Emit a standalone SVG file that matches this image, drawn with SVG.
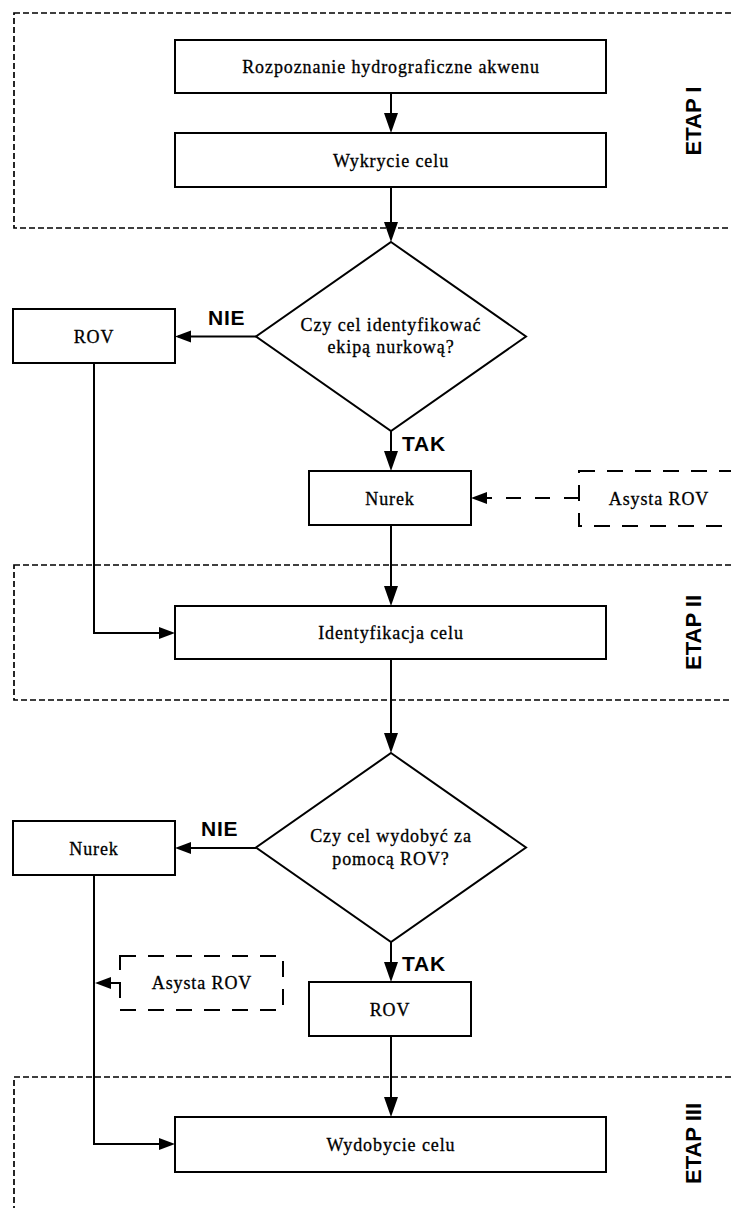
<svg xmlns="http://www.w3.org/2000/svg" width="731" height="1208" viewBox="0 0 731 1208">
<style>
.frame{fill:none;stroke:#000;stroke-width:1.7;stroke-dasharray:6 3}
.box{fill:#fff;stroke:#000;stroke-width:2}
.dbox{fill:#fff;stroke:#000;stroke-width:2;stroke-dasharray:16 12}
.t{font-family:"Liberation Serif","Times New Roman",serif;font-size:18px;letter-spacing:0.9px;text-anchor:middle;fill:#000;stroke:#000;stroke-width:0.3}
.lbl{font-family:"Liberation Sans",Arial,sans-serif;font-size:21px;font-weight:bold;letter-spacing:0.8px;fill:#000}
.etap{font-family:"Liberation Sans",Arial,sans-serif;font-size:22px;font-weight:bold;text-anchor:middle;fill:#000}
.c{fill:none;stroke:#000;stroke-width:2}
.cv{fill:none;stroke:#000;stroke-width:2;marker-end:url(#av)}
.ch{fill:none;stroke:#000;stroke-width:2;marker-end:url(#ah)}
.cd{fill:none;stroke:#000;stroke-width:2;stroke-dasharray:15 14;marker-end:url(#ah)}
</style>
<defs>
<marker id="av" markerUnits="userSpaceOnUse" markerWidth="20" markerHeight="14" refX="17" refY="7" orient="auto" overflow="visible">
<path d="M0,0 L20,7 L0,14 Z" fill="#000"/>
</marker>
<marker id="ah" markerUnits="userSpaceOnUse" markerWidth="16" markerHeight="12" refX="13" refY="6" orient="auto" overflow="visible">
<path d="M0,0 L16,6 L0,12 Z" fill="#000"/>
</marker>
</defs>
<rect width="731" height="1208" fill="#fff"/>

<g id="etap1">
<rect class="frame" x="14" y="13" width="740" height="215"/>
<text class="etap" transform="translate(701,121) rotate(-90)">ETAP I</text>
</g>
<g id="etap2">
<rect class="frame" x="14" y="565" width="740" height="135"/>
<text class="etap" transform="translate(701,632.5) rotate(-90)">ETAP II</text>
</g>
<g id="etap3">
<rect class="frame" x="14" y="1077" width="740" height="160"/>
<text class="etap" transform="translate(701,1143.5) rotate(-90)">ETAP III</text>
</g>

<g id="connectors">
<path class="cv" d="M391,93 V130"/>
<path class="cv" d="M391,187 V239"/>
<path class="ch" d="M256,336.5 H178"/>
<path class="cv" d="M391,431 V468"/>
<path class="cd" d="M579,498 H474"/>
<path class="cv" d="M391,525 V603"/>
<path class="ch" d="M94,363 V633 H172"/>
<path class="cv" d="M391,659 V750"/>
<path class="ch" d="M256,848 H178"/>
<path class="cv" d="M391,942 V979"/>
<path class="cv" d="M391,1036 V1114"/>
<path class="ch" d="M94,875 V1144 H172"/>
<path class="ch" d="M120,983 H98"/>
<text class="lbl" x="208" y="325">NIE</text>
<text class="lbl" x="402" y="451">TAK</text>
<text class="lbl" x="201" y="836">NIE</text>
<text class="lbl" x="402" y="971">TAK</text>
</g>

<g id="n1">
<rect class="box" x="175" y="40" width="431" height="53"/>
<text class="t" x="391" y="73">Rozpoznanie hydrograficzne akwenu</text>
</g>
<g id="n2">
<rect class="box" x="175" y="133" width="431" height="54"/>
<text class="t" x="391" y="166.5">Wykrycie celu</text>
</g>
<g id="d1">
<polygon class="box" points="391,242 526,336.5 391,431 256,336.5"/>
<text class="t" x="391" y="331">Czy cel identyfikować</text>
<text class="t" x="391" y="353">ekipą nurkową?</text>
</g>
<g id="rov1">
<rect class="box" x="13" y="309" width="162" height="54"/>
<text class="t" x="94" y="343">ROV</text>
</g>
<g id="nurek1">
<rect class="box" x="309" y="471" width="162" height="54"/>
<text class="t" x="390" y="504.5">Nurek</text>
</g>
<g id="asysta1">
<rect class="dbox" x="579" y="471" width="170" height="55"/>
<text class="t" x="659" y="505">Asysta ROV</text>
</g>
<g id="ident">
<rect class="box" x="175" y="606" width="431" height="53"/>
<text class="t" x="391" y="639">Identyfikacja celu</text>
</g>
<g id="d2">
<polygon class="box" points="391,753 526,847.5 391,942 256,847.5"/>
<text class="t" x="391" y="842">Czy cel wydobyć za</text>
<text class="t" x="391" y="865">pomocą ROV?</text>
</g>
<g id="nurek2">
<rect class="box" x="13" y="821" width="162" height="54"/>
<text class="t" x="94" y="854.5">Nurek</text>
</g>
<g id="asysta2">
<rect class="dbox" x="120" y="956" width="163" height="54"/>
<text class="t" x="202" y="989">Asysta ROV</text>
</g>
<g id="rov2">
<rect class="box" x="309" y="982" width="162" height="54"/>
<text class="t" x="390" y="1016">ROV</text>
</g>
<g id="wyd">
<rect class="box" x="175" y="1117" width="431" height="55"/>
<text class="t" x="391" y="1151">Wydobycie celu</text>
</g>
</svg>
